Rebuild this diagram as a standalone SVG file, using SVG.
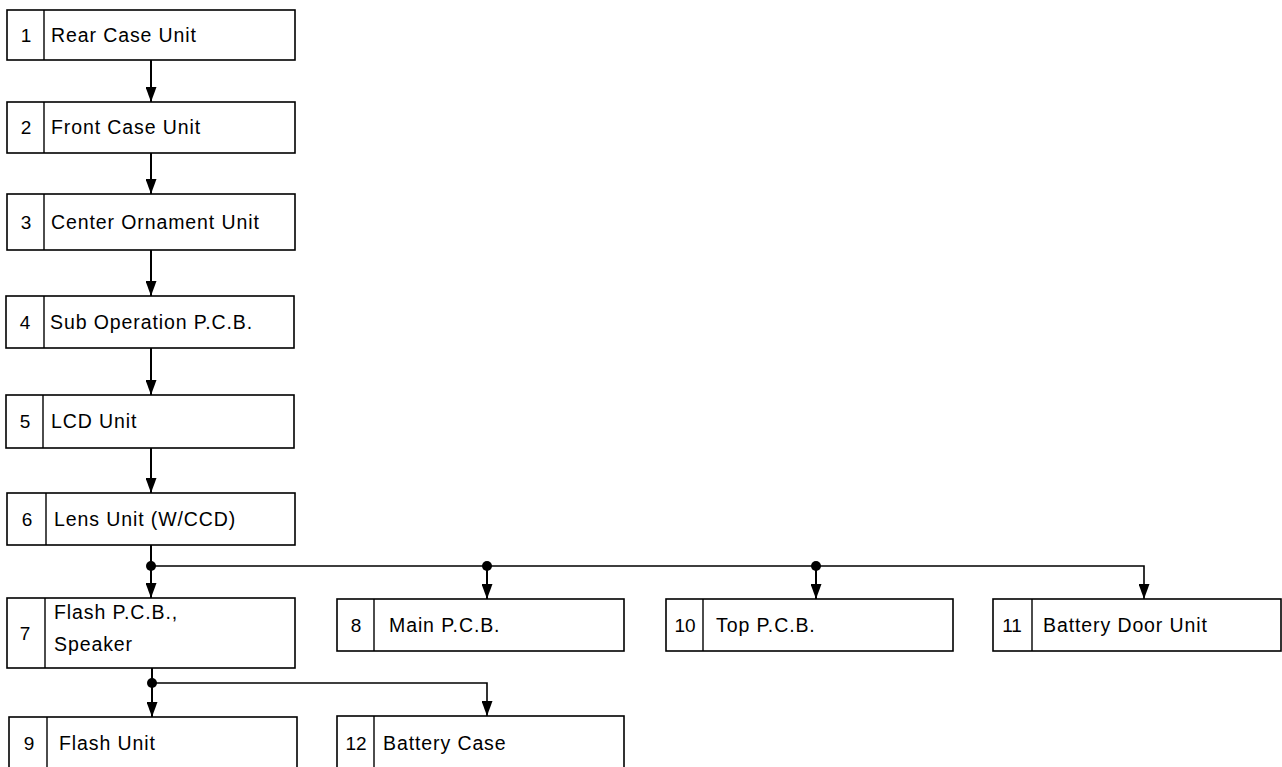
<svg xmlns="http://www.w3.org/2000/svg" width="1282" height="767" viewBox="0 0 1282 767">
<defs>
<style>
.box{fill:#fff;stroke:#000;stroke-width:1.6}
.div{stroke:#000;stroke-width:1.4}
.t{font-family:"Liberation Sans",Arial,sans-serif;font-size:19.5px;letter-spacing:0.9px;fill:#000}
.n{font-family:"Liberation Sans",Arial,sans-serif;font-size:19px;fill:#000;text-anchor:middle}
.c{fill:none;stroke:#000;stroke-width:2}
.h{fill:none;stroke:#000;stroke-width:1.6}
</style>
<marker id="ah" viewBox="0 0 15 11" refX="15" refY="5.5" markerWidth="15" markerHeight="11" markerUnits="userSpaceOnUse" orient="auto">
<path d="M0,0 L15,5.5 L0,11 z" fill="#000"/>
</marker>
</defs>
<g id="connectors">
<path class="c" d="M151,60 V102" marker-end="url(#ah)"/>
<path class="c" d="M151,153 V194" marker-end="url(#ah)"/>
<path class="c" d="M151,250 V296" marker-end="url(#ah)"/>
<path class="c" d="M151,348 V395" marker-end="url(#ah)"/>
<path class="c" d="M151,448 V493" marker-end="url(#ah)"/>
<path class="c" d="M151,545 V598" marker-end="url(#ah)"/>
<path class="h" d="M151,566 H1144 V599" marker-end="url(#ah)"/>
<path class="c" d="M487,566 V599" marker-end="url(#ah)"/>
<path class="c" d="M816,566 V599" marker-end="url(#ah)"/>
<path class="c" d="M152,668 V717" marker-end="url(#ah)"/>
<path class="h" d="M152,683 H487 V716" marker-end="url(#ah)"/>
<circle cx="151" cy="566" r="5"/>
<circle cx="487" cy="566" r="5"/>
<circle cx="816" cy="566" r="5"/>
<circle cx="152" cy="683" r="5"/>
</g>
<g id="node1"><rect class="box" x="7" y="10" width="288" height="50"/><line class="div" x1="44" y1="10" x2="44" y2="60"/><text class="n" x="26" y="42">1</text><text class="t" x="51" y="42">Rear Case Unit</text></g>
<g id="node2"><rect class="box" x="7" y="102" width="288" height="51"/><line class="div" x1="44" y1="102" x2="44" y2="153"/><text class="n" x="26" y="134">2</text><text class="t" x="51" y="134">Front Case Unit</text></g>
<g id="node3"><rect class="box" x="7" y="194" width="288" height="56"/><line class="div" x1="44" y1="194" x2="44" y2="250"/><text class="n" x="26" y="229">3</text><text class="t" x="51" y="229">Center Ornament Unit</text></g>
<g id="node4"><rect class="box" x="6" y="296" width="288" height="52"/><line class="div" x1="44" y1="296" x2="44" y2="348"/><text class="n" x="25" y="329">4</text><text class="t" x="50" y="329">Sub Operation P.C.B.</text></g>
<g id="node5"><rect class="box" x="6" y="395" width="288" height="53"/><line class="div" x1="43" y1="395" x2="43" y2="448"/><text class="n" x="25" y="428">5</text><text class="t" x="51" y="428">LCD Unit</text></g>
<g id="node6"><rect class="box" x="7" y="493" width="288" height="52"/><line class="div" x1="46" y1="493" x2="46" y2="545"/><text class="n" x="27" y="526">6</text><text class="t" x="54" y="526">Lens Unit (W/CCD)</text></g>
<g id="node7"><rect class="box" x="7" y="598" width="288" height="70"/><line class="div" x1="45" y1="598" x2="45" y2="668"/><text class="n" x="25" y="640">7</text><text class="t" x="54" y="619">Flash P.C.B.,</text><text class="t" x="54" y="651">Speaker</text></g>
<g id="node8"><rect class="box" x="337" y="599" width="287" height="52"/><line class="div" x1="374" y1="599" x2="374" y2="651"/><text class="n" x="356" y="632">8</text><text class="t" x="389" y="632">Main P.C.B.</text></g>
<g id="node10"><rect class="box" x="666" y="599" width="287" height="52"/><line class="div" x1="703" y1="599" x2="703" y2="651"/><text class="n" x="685" y="632">10</text><text class="t" x="716" y="632">Top P.C.B.</text></g>
<g id="node11"><rect class="box" x="993" y="599" width="288" height="52"/><line class="div" x1="1032" y1="599" x2="1032" y2="651"/><text class="n" x="1012" y="632">11</text><text class="t" x="1043" y="632">Battery Door Unit</text></g>
<g id="node9"><rect class="box" x="9" y="717" width="288" height="60"/><line class="div" x1="47" y1="717" x2="47" y2="777"/><text class="n" x="29" y="750">9</text><text class="t" x="59" y="750">Flash Unit</text></g>
<g id="node12"><rect class="box" x="337" y="716" width="287" height="61"/><line class="div" x1="374" y1="716" x2="374" y2="777"/><text class="n" x="356" y="750">12</text><text class="t" x="383" y="750">Battery Case</text></g>
</svg>
